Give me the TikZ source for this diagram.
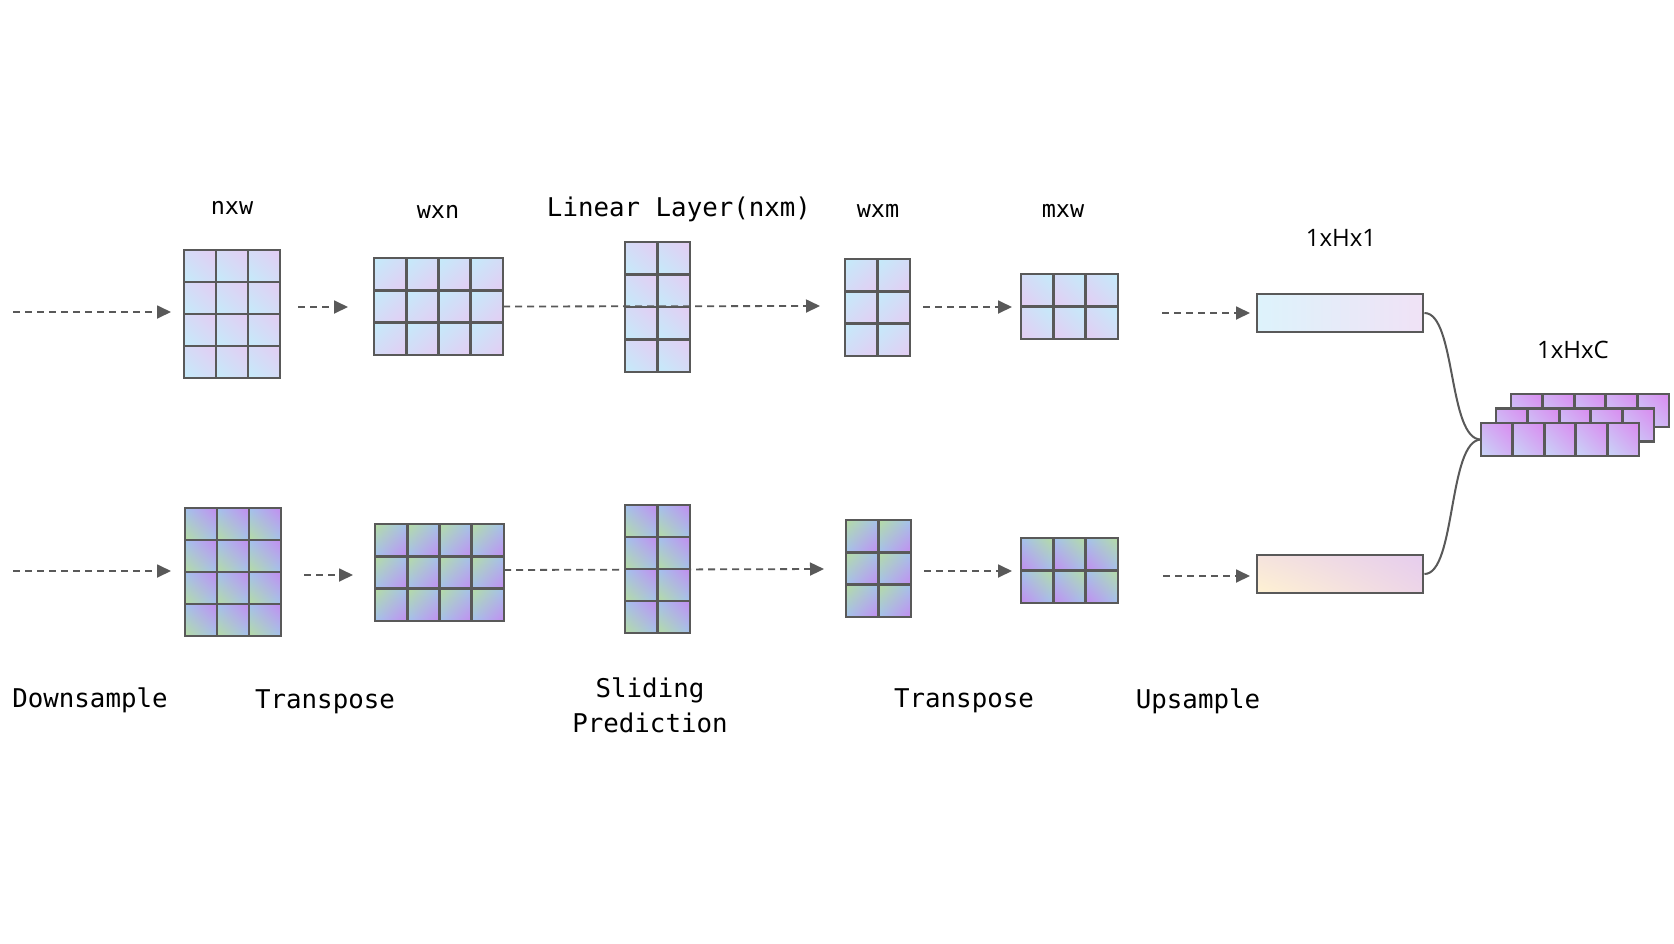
\documentclass[tikz,border=0pt]{standalone}
\usepackage{fontspec}
\newfontfamily\monof{DejaVu Sans Mono}
\newfontfamily\sansf{Open Sans}
\usetikzlibrary{arrows.meta,shadings}
\definecolor{edge}{HTML}{595959}
\definecolor{tb}{HTML}{C4EBFA}
\definecolor{tp}{HTML}{E4CCF3}
\colorlet{tm}{tb!50!tp}
\definecolor{bg}{HTML}{B6DCA2}
\definecolor{bb}{HTML}{A2C2EE}
\definecolor{bp}{HTML}{C48CEF}
\definecolor{sp}{HTML}{DA8AF0}
\definecolor{sb}{HTML}{C8D6F7}
\colorlet{sm}{sp!50!sb}
\definecolor{ra}{HTML}{DDF3FB}
\definecolor{rb}{HTML}{F0E2F6}
\definecolor{rc}{HTML}{FFF2D2}
\definecolor{rd}{HTML}{F5E3DD}
\definecolor{re}{HTML}{EDD5E8}
\definecolor{rf}{HTML}{E6CDEE}
\tikzset{
  gridline/.style={draw=edge, line width=2.9pt},
  arr/.style={draw=edge, line width=1.8pt, dash pattern=on 7pt off 5pt, -{Triangle[length=14pt,width=13pt]}},
  lbl/.style={font=\monof\fontsize{25.8}{35}\selectfont, inner sep=0, align=center},
  dimlbl/.style={font=\monof\fontsize{23.5}{30}\selectfont, inner sep=0},
  slbl/.style={font=\sansf\fontsize{24}{30}\selectfont, inner sep=0},
  curve/.style={draw=edge, line width=2pt},
  shTA/.style={lower left=tb, upper right=tp, upper left=tm, lower right=tm},
  shTB/.style={upper left=tb, lower right=tp, upper right=tm, lower left=tm},
  shTC/.style={upper right=tb, lower left=tp, upper left=tm, lower right=tm},
  shBA/.style={lower left=bg, upper right=bp, upper left=bb, lower right=bb},
  shBB/.style={upper left=bg, lower right=bp, upper right=bb, lower left=bb},
  shBC/.style={upper right=bg, lower left=bp, upper left=bb, lower right=bb},
  shS/.style={lower left=sb, upper right=sp, upper left=sm, lower right=sm},
}
% name, left x, top y, cols, rows, cell w, cell h, shading style
\newcommand{\cellgrid}[8]{%
  \foreach \ci in {1,...,#4}{\foreach \cj in {1,...,#5}{%
    \shade[#8] ({#2+(\ci-1)*#6},{#3+(\cj-1)*#7}) rectangle ++(#6,#7);}}
  \foreach \ci in {1,...,#4}{\foreach \cj in {1,...,#5}{%
    \draw[gridline] ({#2+(\ci-1)*#6},{#3+(\cj-1)*#7}) rectangle ++(#6,#7);}}
  \node[inner sep=0, outer sep=0, minimum width={#4*#6*1pt}, minimum height={#5*#7*1pt}] (#1) at ({#2+#4*#6/2},{#3+#5*#7/2}) {};
}
\begin{document}
\begin{tikzpicture}[x=1pt,y=-1pt]
\useasboundingbox[fill=white] (0,0) rectangle (1674,943);

% arrow end coordinates
\coordinate (a1s) at (13,312);   \coordinate (a1e) at (171,312);
\coordinate (a2s) at (298,307);  \coordinate (a2e) at (348,307);
\coordinate (a3e) at (820,306);
\coordinate (a4s) at (923,307);  \coordinate (a4e) at (1012,307);
\coordinate (a5s) at (1162,313); \coordinate (a5e) at (1250,313);
\coordinate (b1s) at (13,571);   \coordinate (b1e) at (171,571);
\coordinate (b2s) at (304,575);  \coordinate (b2e) at (353,575);
\coordinate (b3s) at (504,570);  \coordinate (b3e) at (824,569);
\coordinate (b4s) at (924,571);  \coordinate (b4e) at (1012,571);
\coordinate (b5s) at (1163,576); \coordinate (b5e) at (1250,576);

% bottom linear arrow passes behind the grid
\draw[arr] (b3s) -- (b3e);

% top row grids
\cellgrid{g1t}{184}{250}{3}{4}{32}{32}{shTA}
\cellgrid{g2t}{374}{258}{4}{3}{32.25}{32.33}{shTB}
\cellgrid{g3t}{625}{242}{2}{4}{32.5}{32.5}{shTA}
\cellgrid{g4t}{845}{259}{2}{3}{32.5}{32.33}{shTB}
\cellgrid{g5t}{1021}{274}{3}{2}{32.33}{32.5}{shTC}
% bottom row grids
\cellgrid{g1b}{185}{508}{3}{4}{32}{32}{shBA}
\cellgrid{g2b}{375}{524}{4}{3}{32.25}{32.33}{shBB}
\cellgrid{g3b}{625}{505}{2}{4}{32.5}{32}{shBA}
\cellgrid{g4b}{846}{520}{2}{3}{32.5}{32.33}{shBB}
\cellgrid{g5b}{1021}{538}{3}{2}{32.33}{32.5}{shBC}

% output rectangles
\node[gridline, inner sep=0, minimum width=166pt, minimum height=38pt, left color=ra, right color=rb] (r1) at (1340,313) {};
\node[gridline, inner sep=0, minimum width=166pt, minimum height=38pt, lower left=rc, upper left=rd, lower right=re, upper right=rf] (r2) at (1340,574) {};

% stacked output
\cellgrid{sback}{1511}{394}{5}{1}{31.6}{33}{shS}
\cellgrid{smid}{1496}{408.5}{5}{1}{31.6}{33}{shS}
\cellgrid{sfront}{1481}{423}{5}{1}{31.6}{33}{shS}

\draw[arr] (a1s) -- (a1e);
\draw[arr] (a2s) -- (a2e);
\draw[arr] (g2t.east) -- (a3e);
\draw[arr] (a4s) -- (a4e);
\draw[arr] (a5s) -- (a5e);
\draw[arr] (b1s) -- (b1e);
\draw[arr] (b2s) -- (b2e);
\draw[arr] (b4s) -- (b4e);
\draw[arr] (b5s) -- (b5e);

% merge curves
\draw[curve] (r1.east) .. controls (1456,313) and (1448,440) .. (sfront.west);
\draw[curve] (r2.east) .. controls (1456,574) and (1448,440) .. (sfront.west);

% labels
\node[dimlbl] (lnxw) at (232,208) {nxw};
\node[dimlbl] (lwxn) at (438,212) {wxn};
\node[lbl] (llin) at (679,209) {Linear Layer(nxm)};
\node[dimlbl] (lwxm) at (878,211) {wxm};
\node[dimlbl] (lmxw) at (1063,211) {mxw};
\node[slbl] (l1h1) at (1341,238) {1xHx1};
\node[slbl] (l1hc) at (1573,350) {1xHxC};
\node[lbl] (ldown) at (90,700) {Downsample};
\node[lbl] (ltr1) at (325,702) {Transpose};
\node[lbl] (lslide) at (650,705) {Sliding\\Prediction};
\node[lbl] (ltr2) at (964,701) {Transpose};
\node[lbl] (lup) at (1198,701) {Upsample};
\end{tikzpicture}
\end{document}
